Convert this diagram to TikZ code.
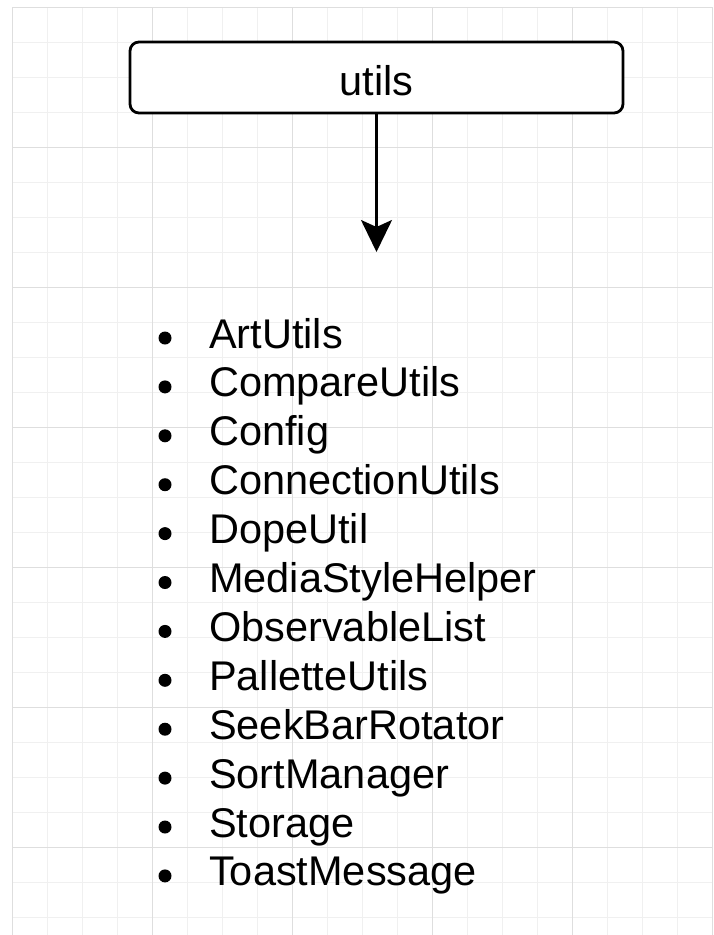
\documentclass[tikz,border=0pt]{standalone}
\usepackage{fontspec}
\setmainfont{Liberation Sans}
\usetikzlibrary{arrows.meta}
\begin{document}
\begin{tikzpicture}[x=1pt,y=-1pt,
  minorgrid/.style={draw=black!6, line width=0.9pt},
  majorgrid/.style={draw=black!13, line width=0.9pt},
  titlebox/.style={draw=black, line width=2.8pt, rounded corners=9pt, fill=white,
    minimum width=493pt, minimum height=71pt, inner sep=0pt,
    text height=35pt, text depth=0pt, font=\fontsize{41.5}{48}\selectfont},
  entry/.style={anchor=base west, inner sep=0pt, font=\fontsize{41.5}{48}\selectfont},
  dot/.style={circle, fill=black, inner sep=0pt, minimum size=13pt},
  link/.style={line width=2.2pt, -{Stealth[length=32pt, width=31pt, inset=7pt]}}
]
\useasboundingbox (0,0) rectangle (713,935);
\fill[white] (0,0) rectangle (713,935);

% background grid
\foreach \k in {0,...,20}
  \draw[minorgrid] ({12+35*\k},7) -- ({12+35*\k},935);
\foreach \k in {0,...,26}
  \draw[minorgrid] (12,{7+35*\k}) -- (713,{7+35*\k});
\foreach \k in {0,...,5}
  \draw[majorgrid] ({12+140*\k},7) -- ({12+140*\k},935);
\foreach \k in {0,...,6}
  \draw[majorgrid] (12,{7+140*\k}) -- (713,{7+140*\k});

% package box and arrow
\node[titlebox] (utils) at (376.5,77.5) {utils};
\coordinate (head) at (376.5,252);
\draw[link] (utils.south) -- (head);

% class list
\foreach \name [count=\i from 0] in {ArtUtils,CompareUtils,Config,ConnectionUtils,DopeUtil,MediaStyleHelper,ObservableList,PalletteUtils,SeekBarRotator,SortManager,Storage,ToastMessage} {
  \node[entry] (item\i) at (209,{348+48.9*\i}) {\name};
  \node[dot] (dot\i) at (165,{338+48.9*\i}) {};
}
\end{tikzpicture}
\end{document}
